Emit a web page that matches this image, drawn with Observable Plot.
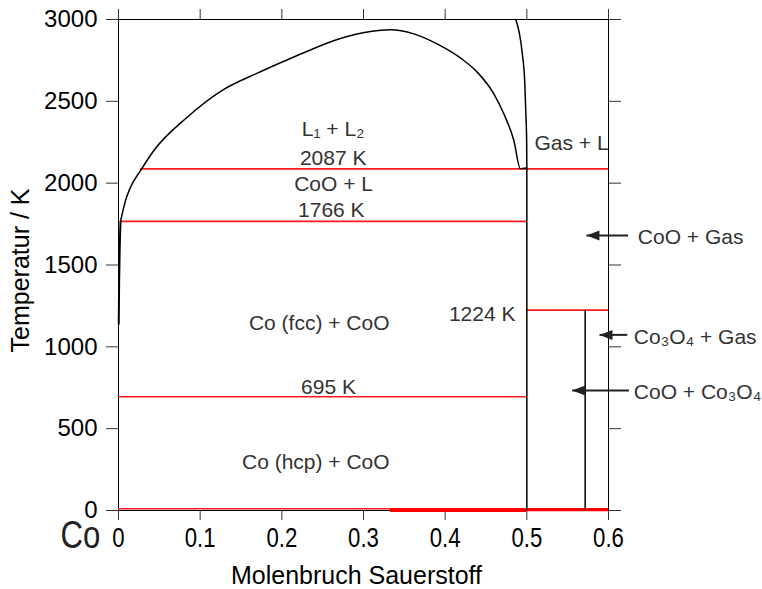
<!DOCTYPE html>
<html><head><meta charset="utf-8">
<script src="https://cdn.jsdelivr.net/npm/d3@7"></script>
<script src="https://cdn.jsdelivr.net/npm/@observablehq/plot@0.6"></script>
<style>body{margin:0;background:#fff} svg{display:block}</style>
</head><body><div id="chart"></div>
<script>
// axis ticks
const xTicks = [0, 0.1, 0.2, 0.3, 0.4, 0.5, 0.6];
const xTickLabels = ["0", "0.1", "0.2", "0.3", "0.4", "0.5", "0.6"];
const yTicks = [0, 500, 1000, 1500, 2000, 2500, 3000];
const yTickLabels = ["0", "500", "1000", "1500", "2000", "2500", "3000"];

// liquidus + miscibility gap (L1 + L2)
const domeX = [0.0025, 0.0045, 0.0086, 0.0147, 0.027, 0.0433, 0.0841, 0.128, 0.17, 0.2004, 0.2269, 0.2678, 0.3086, 0.333, 0.3616, 0.390, 0.4187, 0.439, 0.4596, 0.4718, 0.4841, 0.4922, 0.5];
const domeT = [1766, 1812, 1894, 1975, 2077, 2200, 2403, 2570, 2672, 2740, 2797, 2878, 2927, 2937, 2912, 2851, 2765, 2680, 2546, 2424, 2261, 2088, 2094];
// solubility of O in Co (solid)
const solX = [0.0003, 0.0008, 0.0015, 0.0025];
const solT = [1140, 1400, 1600, 1766];
// gas / liquid boundary
const gasX = [0.4865, 0.494, 0.4975, 0.499, 0.4998, 0.5];
const gasT = [3000, 2810, 2610, 2400, 2250, 2094];

// invariant temperatures (red)
const isoT = [2087, 1766, 1224, 695];
const isoX1 = [0.027, 0.0025, 0.5, 0];
const isoX2 = [0.6, 0.5, 0.6, 0.5];
// near 0 K lines
const lowT = [10, 3, 5];
const lowX1 = [0, 0.333, 0.5];
const lowX2 = [0.6, 0.5, 0.6];

// compound lines (CoO, Co3O4)
const phaseX = [0.5, 4 / 7];
const phaseTop = [2087, 1224];

// labels
const labelText = ["L\u2081 + L\u2082", "2087 K", "CoO + L", "1766 K", "Co (fcc) + CoO", "695 K", "Co (hcp) + CoO"];
const labelX = [0.2627, 0.2629, 0.2633, 0.2606, 0.2458, 0.2571, 0.2416];
const labelT = [2332, 2155, 1996, 1833, 1141, 754, 296];
const label2Text = ["1224 K"];
const label2X = [0.4861];
const label2T = [1202];
const sideText = ["Gas + L", "CoO + Gas", "Co\u2083O\u2084 + Gas", "CoO + Co\u2083O\u2084"];
const sideX = [0.5094, 0.6359, 0.631, 0.631];
const sideT = [2241, 1670, 1059, 723];

// arrows
const arrowTipX = [0.573, 0.589, 0.5555];
const arrowTailX = [0.624, 0.623, 0.625];
const arrowT = [1680, 1073, 733];

const zip = (xs, ts) => xs.map((x, i) => ({x, T: ts[i]}));
const dome = zip(domeX, domeT);
const sol = zip(solX, solT);
const gas = zip(gasX, gasT);
const iso = isoT.map((T, i) => ({T, x1: isoX1[i], x2: isoX2[i]}));
const low = lowT.map((T, i) => ({T, x1: lowX1[i], x2: lowX2[i]}));
const phase = phaseX.map((x, i) => ({x, top: phaseTop[i]}));
const labels = labelText.map((t, i) => ({t, x: labelX[i], T: labelT[i]}));
const labels2 = label2Text.map((t, i) => ({t, x: label2X[i], T: label2T[i]}));
const side = sideText.map((t, i) => ({t, x: sideX[i], T: sideT[i]}));
const arrows = arrowT.map((T, i) => ({T, tip: arrowTipX[i], tail: arrowTailX[i]}));

const leftHead = {draw(ctx) { ctx.moveTo(0, 0); ctx.lineTo(13, -5); ctx.lineTo(13, 5); ctx.closePath(); }};
const SANS = "'Liberation Sans', Arial, Helvetica, sans-serif";

const chart = Plot.plot({
  width: 762, height: 589,
  marginLeft: 118, marginRight: 154, marginTop: 19, marginBottom: 79,
  x: {domain: [0, 0.6]},
  y: {domain: [0, 3000]},
  style: {fontFamily: SANS, background: "white", color: "black"},
  marks: [
    Plot.frame({stroke: "black", strokeWidth: 1}),
    Plot.axisY({ticks: yTicks, anchor: "left", tickSize: 12, tickPadding: 9, fontSize: 24, label: null, stroke: "#333", fill: "black",
      tickFormat: d => yTickLabels[yTicks.indexOf(d)]}),
    Plot.axisY({ticks: yTicks, anchor: "right", tickSize: 12, tickFormat: () => "", label: null, stroke: "#333"}),
    Plot.axisX({ticks: xTicks, anchor: "bottom", tickSize: 10, tickPadding: 7, fontSize: 27, className: "narrow",
      tickFormat: d => xTickLabels[xTicks.indexOf(d)], label: null, stroke: "#333", fill: "black"}),
    Plot.axisX({ticks: xTicks, anchor: "top", tickSize: 11, tickFormat: () => "", label: null, stroke: "#333"}),
    Plot.text(["Co"], {frameAnchor: "bottom-left", textAnchor: "middle", lineAnchor: "middle", dx: -38, dy: 25, fontSize: 38, fill: "#222", className: "narrow"}),
    Plot.text(["Temperatur / K"], {frameAnchor: "left", textAnchor: "middle", lineAnchor: "middle", rotate: -90, dx: -98, dy: 5.5, fontSize: 25, fill: "black"}),
    Plot.text(["Molenbruch Sauerstoff"], {frameAnchor: "bottom", textAnchor: "middle", lineAnchor: "middle", dx: -7, dy: 65, fontSize: 25, fill: "black"}),
    // red invariants
    Plot.ruleY(iso, {y: "T", x1: "x1", x2: "x2", stroke: "#ff1a1a", strokeWidth: 1.7}),
    Plot.ruleY(low.slice(0, 1), {y: "T", x1: "x1", x2: "x2", stroke: "#ff1a1a", strokeWidth: 1.5}),
    Plot.ruleY(low.slice(1, 2), {y: "T", x1: "x1", x2: "x2", stroke: "#ff0000", strokeWidth: 4}),
    Plot.ruleY(low.slice(2, 3), {y: "T", x1: "x1", x2: "x2", stroke: "#ff0000", strokeWidth: 3}),
    // black phase boundaries
    Plot.ruleX(phase, {x: "x", y1: 0, y2: "top", stroke: "black", strokeWidth: 1.5}),
    Plot.line(dome, {x: "x", y: "T", curve: "monotone-x", stroke: "black", strokeWidth: 1.5}),
    Plot.line(sol, {x: "x", y: "T", curve: "monotone-x", stroke: "black", strokeWidth: 2}),
    Plot.line(gas, {x: "x", y: "T", curve: "monotone-x", stroke: "black", strokeWidth: 1.5}),
    // labels
    Plot.text(labels, {x: "x", y: "T", text: "t", fontSize: 21, fill: "#333", textAnchor: "middle"}),
    Plot.text(labels2, {x: "x", y: "T", text: "t", fontSize: 21, fill: "#333", textAnchor: "end"}),
    Plot.text(side, {x: "x", y: "T", text: "t", fontSize: 21, fill: "#333", textAnchor: "start"}),
    // arrows
    Plot.link(arrows, {x1: "tail", x2: "tip", y1: "T", y2: "T", stroke: "#222", strokeWidth: 2}),
    Plot.dot(arrows, {x: "tip", y: "T", symbol: leftHead, r: 4, fill: "#222", stroke: "none"})
  ]
});
document.getElementById("chart").appendChild(chart);
// condense the narrow-style texts horizontally (no narrow font installed)
d3.select(chart).selectAll(".narrow text").each(function() {
  const w = this.getComputedTextLength();
  if (w > 0) {
    this.setAttribute("textLength", (w * 0.82).toFixed(2));
    this.setAttribute("lengthAdjust", "spacingAndGlyphs");
  }
});
</script>
</body></html>
